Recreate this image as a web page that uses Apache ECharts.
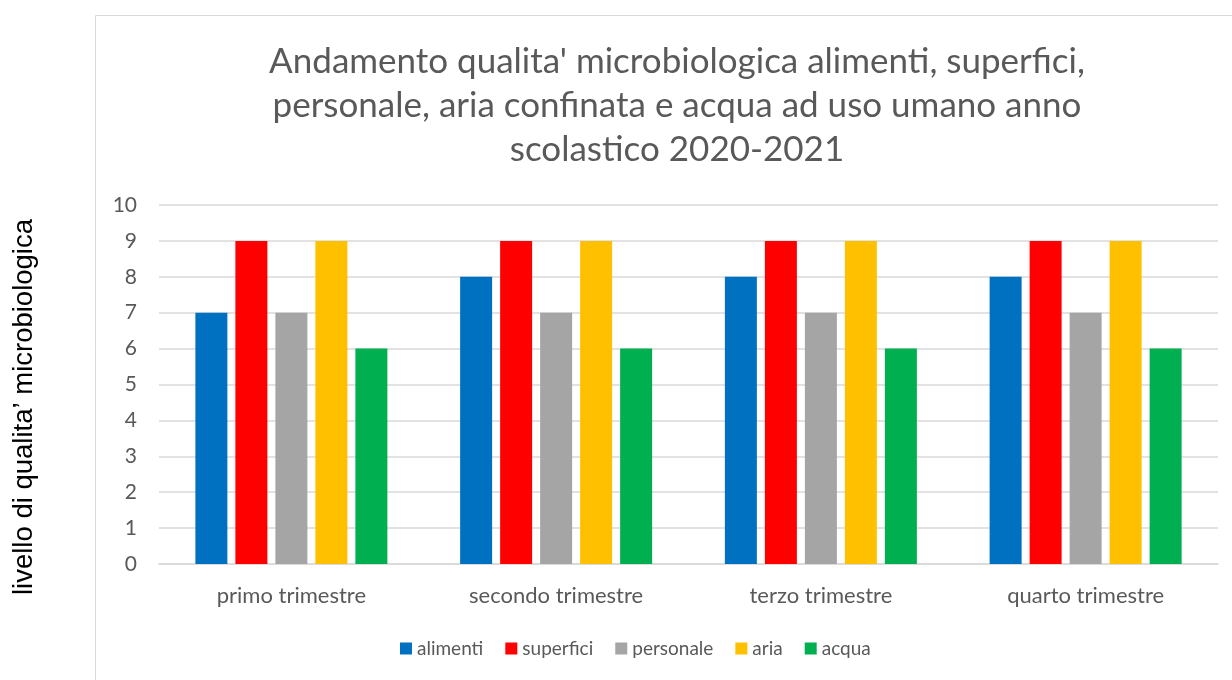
<!DOCTYPE html>
<html><head><meta charset="utf-8">
<script src="https://cdn.jsdelivr.net/npm/echarts@6/dist/echarts.min.js"></script>
<style>html,body{margin:0;padding:0;background:#fff}#c{width:1232px;height:680px}</style>
</head><body><div id="c"></div>
<script>
const categories = ['primo trimestre', 'secondo trimestre', 'terzo trimestre', 'quarto trimestre'];
const seriesNames = ['alimenti', 'superfici', 'personale', 'aria', 'acqua'];
const alimenti = [7, 8, 8, 8];
const superfici = [9, 9, 9, 9];
const personale = [7, 7, 7, 7];
const aria = [9, 9, 9, 9];
const acqua = [6, 6, 6, 6];
const yAxisTitle = "livello di qualita\u2019 microbiologica";
const colors = ['#0070C0', '#FF0000', '#A5A5A5', '#FFC000', '#00B050'];
const values = [alimenti, superfici, personale, aria, acqua];
const FONT = 'Lato';

const chart = echarts.init(document.getElementById('c'));
chart.setOption({
  animation: false,
  textStyle: { fontFamily: FONT },
  title: {
    text: "Andamento qualita' microbiologica alimenti, superfici,\npersonale, aria confinata e acqua ad uso umano anno\nscolastico 2020-2021",
    left: 672, top: 35, textAlign: 'center',
    textStyle: { fontFamily: FONT, fontSize: 35, fontWeight: 'normal', color: '#595959', lineHeight: 44 }
  },
  graphic: [{
    type: 'rect', shape: { x: 95.5, y: 15.5, width: 1300, height: 800 },
    style: { fill: 'none', stroke: '#D9D9D9', lineWidth: 1 }, silent: true, z: -1
  }, {
    type: 'text', x: 24, y: 407, rotation: Math.PI / 2, silent: true,
    style: { text: yAxisTitle, fontFamily: 'Liberation Sans', fontSize: 27.5, fill: '#000',
      align: 'center', verticalAlign: 'middle' }
  }],
  legend: {
    top: 634, left: 395, itemWidth: 12, itemHeight: 12, itemGap: 22,
    icon: 'rect',
    textStyle: { fontFamily: FONT, fontSize: 19, color: '#595959', padding: [0, 0, 0, 0] },
    data: seriesNames
  },
  grid: { left: 159, right: 14, top: 205, bottom: 116, containLabel: false },
  xAxis: {
    type: 'category', data: categories,
    axisLine: { lineStyle: { color: '#D9D9D9', width: 1.5 } },
    axisTick: { show: false },
    axisLabel: { fontFamily: FONT, fontSize: 22, color: '#595959', margin: 21 }
  },
  yAxis: {
    type: 'value', min: 0, max: 10, interval: 1,
    axisLine: { show: false }, axisTick: { show: false },
    splitLine: { lineStyle: { color: '#D9D9D9', width: 1.5 } },
    axisLabel: { fontFamily: FONT, fontSize: 21, color: '#595959', margin: 22 }
  },
  series: seriesNames.map((n, i) => ({
    name: n, type: 'bar', data: values[i], barWidth: 32, barGap: '25%',
    itemStyle: { color: colors[i] }
  }))
});
</script></body></html>
